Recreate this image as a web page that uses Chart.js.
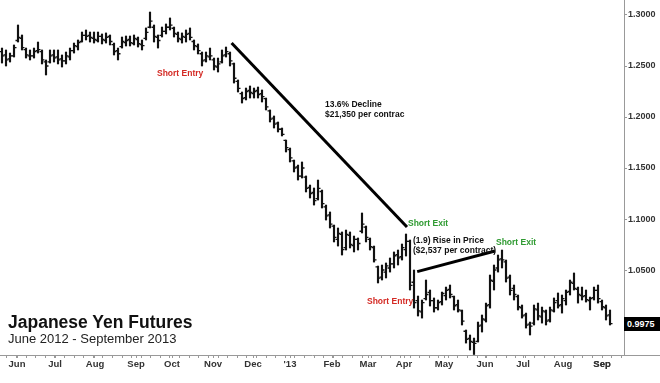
<!DOCTYPE html>
<html>
<head>
<meta charset="utf-8">
<script src="https://cdn.jsdelivr.net/npm/chart.js@4/dist/chart.umd.min.js"></script>
<style>
  html, body { margin: 0; padding: 0; background: #fff; }
  #wrap { position: relative; width: 660px; height: 383px; font-family: "Liberation Sans", Arial, sans-serif; }
  #chart { position: absolute; left: 0; top: 0; }
  .note { position: absolute; font-size: 8.5px; font-weight: bold; line-height: 10px; white-space: nowrap; color: #111; }
  .red { color: #d42a24; }
  .green { color: #2f9a31; }
  #title { position: absolute; left: 8px; top: 313px; font-size: 17.5px; line-height: 18px; font-weight: bold; color: #111; white-space: nowrap; }
  #subtitle { position: absolute; left: 8px; top: 332px; font-size: 13px; line-height: 13px; color: #222; white-space: nowrap; }
  #lastPrice { position: absolute; left: 624px; width: 33px; height: 14px; padding-left: 3px; background: #000; color: #fff;
               font-size: 9px; font-weight: bold; line-height: 14px; }
</style>
</head>
<body>
<div id="wrap">
  <canvas id="chart" width="660" height="383"></canvas>
  <div class="note red" style="left:157px; top:68px;">Short Entry</div>
  <div class="note" style="left:325px; top:99px;">13.6% Decline<br>$21,350 per contrac</div>
  <div class="note green" style="left:408px; top:218px;">Short Exit</div>
  <div class="note" style="left:413px; top:235px;">(1.9) Rise in Price<br>($2,537 per contract)</div>
  <div class="note green" style="left:496px; top:237px;">Short Exit</div>
  <div class="note red" style="left:367px; top:296px;">Short Entry</div>
  <div id="title">Japanese Yen Futures</div>
  <div id="subtitle">June 2012 - September 2013</div>
  <div id="lastPrice"></div>
</div>
<script>
// ---- axis labels ----
const monthLabels = ["Jun", "Jul", "Aug", "Sep", "Oct", "Nov", "Dec", "'13", "Feb", "Mar", "Apr", "May", "Jun", "Jul", "Aug", "Sep"];
const monthPos = [3.75, 13.25, 23.25, 33.5, 42.5, 52.75, 62.75, 72, 82.5, 91.5, 100.5, 110.5, 120.75, 130.25, 140.25, 150];
const yTicks = [1.05, 1.10, 1.15, 1.20, 1.25, 1.30];

// ---- price bars (Jun 2012 - Sep 2013) ----
const highs = [
  1.2676, 1.2657, 1.2627, 1.2706, 1.2902, 1.2804, 1.2676, 1.2657, 1.2676, 1.2735,
  1.2657, 1.2559, 1.2657, 1.2657, 1.2657, 1.2608, 1.2637, 1.2676, 1.2725, 1.2755,
  1.2833, 1.2853, 1.2833, 1.2833, 1.2833, 1.2814, 1.2824, 1.2804, 1.2725, 1.2676,
  1.2784, 1.2794, 1.2794, 1.2804, 1.2784, 1.2755, 1.2873, 1.3029, 1.2902, 1.2804,
  1.2882, 1.2912, 1.2971, 1.2882, 1.2833, 1.2824, 1.2853, 1.2873, 1.2755, 1.2716,
  1.2637, 1.2637, 1.2676, 1.2578, 1.2578, 1.2657, 1.2686, 1.2637, 1.2529, 1.2363,
  1.2245, 1.2284, 1.2304, 1.2284, 1.2294, 1.2265, 1.2186, 1.2069, 1.2010, 1.1951,
  1.1892, 1.1774, 1.1696, 1.1578, 1.1529, 1.1559, 1.1422, 1.1333, 1.1304, 1.1382,
  1.1284, 1.1137, 1.1069, 1.0941, 1.0912, 1.0873, 1.0892, 1.0873, 1.0833, 1.0814,
  1.1059, 1.0931, 1.0814, 1.0735, 1.0539, 1.0549, 1.0569, 1.0618, 1.0677, 1.0696,
  1.0755, 1.0853, 1.0794, 1.0500, 1.0245, 1.0206, 1.0402, 1.0304, 1.0226, 1.0206,
  1.0284, 1.0333, 1.0353, 1.0245, 1.0206, 1.0108, 0.9912, 0.9863, 0.9833, 0.9990,
  1.0059, 1.0176, 1.0451, 1.0549, 1.0647, 1.0696, 1.0598, 1.0451, 1.0353, 1.0255,
  1.0157, 1.0078, 0.9990, 1.0157, 1.0176, 1.0137, 1.0108, 1.0137, 1.0226, 1.0275,
  1.0255, 1.0304, 1.0402, 1.0471, 1.0333, 1.0333, 1.0304, 1.0235, 1.0333, 1.0353,
  1.0206, 1.0157, 1.0108
];
const lows = [
  1.2529, 1.2500, 1.2539, 1.2588, 1.2735, 1.2657, 1.2578, 1.2559, 1.2578, 1.2627,
  1.2520, 1.2412, 1.2529, 1.2539, 1.2520, 1.2490, 1.2520, 1.2559, 1.2627, 1.2657,
  1.2735, 1.2755, 1.2735, 1.2725, 1.2735, 1.2716, 1.2725, 1.2706, 1.2608, 1.2559,
  1.2676, 1.2696, 1.2696, 1.2706, 1.2686, 1.2657, 1.2755, 1.2873, 1.2735, 1.2676,
  1.2784, 1.2814, 1.2853, 1.2784, 1.2735, 1.2725, 1.2735, 1.2755, 1.2657, 1.2618,
  1.2500, 1.2539, 1.2559, 1.2461, 1.2441, 1.2529, 1.2588, 1.2500, 1.2333, 1.2245,
  1.2137, 1.2167, 1.2186, 1.2186, 1.2186, 1.2147, 1.2069, 1.1951, 1.1892, 1.1853,
  1.1814, 1.1657, 1.1559, 1.1461, 1.1382, 1.1402, 1.1265, 1.1206, 1.1137, 1.1186,
  1.1108, 1.0990, 1.0912, 1.0775, 1.0735, 1.0647, 1.0696, 1.0716, 1.0677, 1.0696,
  1.0863, 1.0775, 1.0696, 1.0578, 1.0373, 1.0402, 1.0422, 1.0480, 1.0520, 1.0549,
  1.0598, 1.0637, 1.0304, 1.0127, 1.0049, 1.0029, 1.0206, 1.0147, 1.0088, 1.0108,
  1.0157, 1.0206, 1.0226, 1.0108, 1.0088, 0.9961, 0.9784, 0.9716, 0.9672, 0.9794,
  0.9892, 0.9990, 1.0127, 1.0304, 1.0480, 1.0520, 1.0382, 1.0255, 1.0206, 1.0108,
  1.0029, 0.9931, 0.9863, 0.9961, 1.0010, 0.9980, 0.9961, 0.9990, 1.0088, 1.0127,
  1.0078, 1.0157, 1.0255, 1.0304, 1.0176, 1.0206, 1.0186, 1.0108, 1.0206, 1.0176,
  1.0108, 1.0010, 0.9961
];
const opens = [
  1.2640, 1.2610, 1.2570, 1.2600, 1.2750, 1.2770, 1.2660, 1.2600, 1.2600, 1.2650,
  1.2640, 1.2540, 1.2540, 1.2610, 1.2590, 1.2570, 1.2550, 1.2590, 1.2650, 1.2690,
  1.2740, 1.2800, 1.2800, 1.2770, 1.2750, 1.2790, 1.2750, 1.2790, 1.2710, 1.2650,
  1.2690, 1.2730, 1.2760, 1.2720, 1.2760, 1.2710, 1.2770, 1.2880, 1.2880, 1.2780,
  1.2800, 1.2840, 1.2880, 1.2870, 1.2810, 1.2760, 1.2780, 1.2820, 1.2740, 1.2690,
  1.2620, 1.2560, 1.2590, 1.2560, 1.2490, 1.2540, 1.2610, 1.2620, 1.2520, 1.2350,
  1.2230, 1.2190, 1.2260, 1.2230, 1.2260, 1.2230, 1.2180, 1.2060, 1.1990, 1.1940,
  1.1880, 1.1770, 1.1680, 1.1570, 1.1510, 1.1420, 1.1410, 1.1310, 1.1260, 1.1200,
  1.1270, 1.1120, 1.1040, 1.0930, 1.0800, 1.0850, 1.0720, 1.0840, 1.0740, 1.0800,
  1.0880, 1.0920, 1.0800, 1.0720, 1.0530, 1.0430, 1.0480, 1.0520, 1.0560, 1.0650,
  1.0630, 1.0700, 1.0780, 1.0380, 1.0200, 1.0090, 1.0220, 1.0280, 1.0200, 1.0130,
  1.0190, 1.0250, 1.0310, 1.0240, 1.0160, 1.0100, 0.9900, 0.9830, 0.9790, 0.9800,
  0.9960, 1.0010, 1.0160, 1.0390, 1.0520, 1.0610, 1.0580, 1.0430, 1.0320, 1.0240,
  1.0130, 1.0060, 0.9970, 0.9980, 1.0110, 1.0040, 1.0090, 1.0010, 1.0100, 1.0200,
  1.0160, 1.0200, 1.0290, 1.0370, 1.0310, 1.0250, 1.0250, 1.0200, 1.0230, 1.0300,
  1.0190, 1.0130, 1.0060
];
const closes = [
  1.2600, 1.2560, 1.2600, 1.2680, 1.2780, 1.2680, 1.2610, 1.2600, 1.2640, 1.2660,
  1.2560, 1.2500, 1.2600, 1.2580, 1.2560, 1.2550, 1.2600, 1.2650, 1.2700, 1.2730,
  1.2800, 1.2790, 1.2780, 1.2760, 1.2790, 1.2760, 1.2780, 1.2740, 1.2640, 1.2620,
  1.2740, 1.2750, 1.2730, 1.2770, 1.2720, 1.2700, 1.2830, 1.2940, 1.2790, 1.2750,
  1.2840, 1.2880, 1.2900, 1.2820, 1.2770, 1.2790, 1.2810, 1.2780, 1.2700, 1.2650,
  1.2550, 1.2600, 1.2600, 1.2500, 1.2520, 1.2600, 1.2640, 1.2550, 1.2380, 1.2280,
  1.2180, 1.2250, 1.2240, 1.2250, 1.2220, 1.2200, 1.2100, 1.1980, 1.1930, 1.1880,
  1.1830, 1.1700, 1.1600, 1.1500, 1.1420, 1.1500, 1.1300, 1.1250, 1.1180, 1.1300,
  1.1150, 1.1030, 1.0950, 1.0820, 1.0860, 1.0700, 1.0850, 1.0750, 1.0800, 1.0760,
  1.0950, 1.0820, 1.0730, 1.0600, 1.0420, 1.0500, 1.0540, 1.0560, 1.0640, 1.0620,
  1.0720, 1.0780, 1.0350, 1.0180, 1.0100, 1.0180, 1.0260, 1.0200, 1.0130, 1.0180,
  1.0270, 1.0300, 1.0260, 1.0150, 1.0110, 1.0000, 0.9820, 0.9800, 0.9780, 0.9950,
  1.0020, 1.0150, 1.0400, 1.0500, 1.0600, 1.0600, 1.0420, 1.0300, 1.0260, 1.0140,
  1.0050, 0.9960, 0.9950, 1.0120, 1.0050, 1.0100, 1.0000, 1.0110, 1.0180, 1.0150,
  1.0220, 1.0280, 1.0380, 1.0320, 1.0260, 1.0240, 1.0210, 1.0220, 1.0300, 1.0220,
  1.0140, 1.0050, 0.9975
];

// ---- trend lines (bar index / price) ----
const declineLineX = [57.4, 101.25];
const declineLineY = [1.2725, 1.0922];
const riseLineX = [103.8, 123.25];
const riseLineY = [1.0484, 1.0686];

// weekly minor ticks + month label ticks on the x axis
const xTickVals = [];
for (let w = 1.2; w < 155; w += 2.4) xTickVals.push(+w.toFixed(2));
monthPos.forEach(p => xTickVals.push(p));
xTickVals.sort((a, b) => a - b);

// open (left) and close (right) ticks on each high-low bar
const ohlcTicks = {
  id: "ohlcTicks",
  afterDatasetsDraw(chart) {
    const { ctx, scales: { y } } = chart;
    const meta = chart.getDatasetMeta(0);
    ctx.save();
    ctx.strokeStyle = "#111";
    ctx.lineWidth = 1.3;
    meta.data.forEach((bar, i) => {
      const oy = y.getPixelForValue(opens[i]);
      const cy = y.getPixelForValue(closes[i]);
      ctx.beginPath();
      ctx.moveTo(bar.x - 2.5, oy);
      ctx.lineTo(bar.x, oy);
      ctx.moveTo(bar.x, cy);
      ctx.lineTo(bar.x + 2.5, cy);
      ctx.stroke();
    });
    ctx.restore();
  }
};

// last price box on the right axis + x axis line running under the y axis
const lastPriceBox = {
  id: "lastPriceBox",
  afterDraw(chart) {
    const { ctx, chartArea, scales: { y } } = chart;
    ctx.save();
    ctx.strokeStyle = "#999";
    ctx.lineWidth = 1;
    ctx.beginPath();
    ctx.moveTo(chartArea.right, chartArea.bottom + 0.5);
    ctx.lineTo(chart.width, chartArea.bottom + 0.5);
    ctx.stroke();
    ctx.restore();

    const last = closes[closes.length - 1];
    const box = document.getElementById("lastPrice");
    box.textContent = last.toFixed(4);
    box.style.top = (y.getPixelForValue(last) - 7) + "px";
  }
};

const ctx = document.getElementById("chart").getContext("2d");

new Chart(ctx, {
  type: "bar",
  data: {
    datasets: [
      {
        type: "bar",
        data: highs.map((h, i) => ({ x: i, y: [lows[i], h] })),
        backgroundColor: "#111",
        barThickness: 1.5,
        grouped: false
      },
      {
        type: "line",
        data: declineLineX.map((x, i) => ({ x, y: declineLineY[i] })),
        borderColor: "#000",
        borderWidth: 3,
        pointRadius: 0
      },
      {
        type: "line",
        data: riseLineX.map((x, i) => ({ x, y: riseLineY[i] })),
        borderColor: "#000",
        borderWidth: 3,
        pointRadius: 0
      }
    ]
  },
  options: {
    responsive: false,
    animation: false,
    layout: { padding: 0 },
    plugins: {
      legend: { display: false },
      tooltip: { enabled: false }
    },
    scales: {
      x: {
        type: "linear",
        min: -0.5,
        max: 155.5,
        offset: false,
        afterBuildTicks: ax => { ax.ticks = xTickVals.map(v => ({ value: v })); },
        afterFit: ax => { ax.height = 28; ax.paddingLeft = 0; ax.paddingRight = 0; },
        ticks: {
          autoSkip: false,
          maxRotation: 0,
          padding: 1,
          color: "#333",
          font: { family: "'Liberation Sans', Arial, sans-serif", size: 9.5, weight: "bold" },
          callback: v => {
            const k = monthPos.indexOf(v);
            return k < 0 ? "" : monthLabels[k];
          }
        },
        grid: { drawOnChartArea: false, tickLength: 3, color: "#999", offset: false },
        border: { color: "#999", width: 1 }
      },
      y: {
        position: "right",
        min: 0.9667,
        max: 1.3147,
        afterBuildTicks: ax => { ax.ticks = yTicks.map(v => ({ value: v })); },
        afterFit: ax => { ax.width = 36; ax.paddingTop = 0; ax.paddingBottom = 0; },
        ticks: {
          padding: 1,
          color: "#333",
          font: { family: "'Liberation Sans', Arial, sans-serif", size: 9, weight: "bold" },
          callback: v => v.toFixed(4)
        },
        grid: { drawOnChartArea: false, tickLength: 3, color: "#999" },
        border: { color: "#999", width: 1 }
      }
    }
  },
  plugins: [ohlcTicks, lastPriceBox]
});
</script>
</body>
</html>
